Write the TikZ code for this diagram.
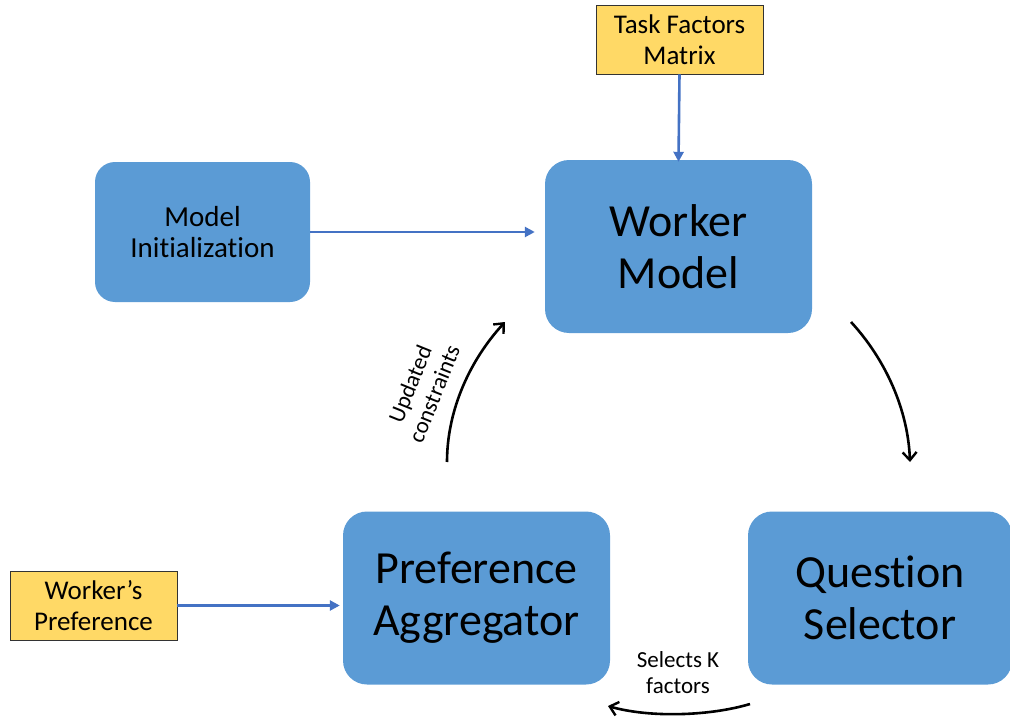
\documentclass[tikz,border=0pt]{standalone}
\usepackage{fontspec}
\setmainfont[Ligatures=NoCommon]{Carlito}
\usetikzlibrary{arrows.meta}
\definecolor{boxblue}{HTML}{5B9BD5}
\definecolor{lineblue}{HTML}{4472C4}
\definecolor{note}{HTML}{FFD966}
\begin{document}
\begin{tikzpicture}[x=1pt,y=-1pt,
  bigbox/.style={fill=boxblue,draw=none,rounded corners=24pt,minimum width=267pt,minimum height=173pt,align=center,font=\fontsize{46}{52}\selectfont},
  smallbox/.style={fill=boxblue,draw=none,rounded corners=20pt,minimum width=215pt,minimum height=140pt,align=center,font=\fontsize{29}{31}\selectfont},
  notebox/.style={fill=note,draw=black!80,line width=0.8pt,minimum width=167pt,minimum height=69pt,align=center,font=\fontsize{27}{31}\selectfont,inner sep=0pt},
  blueline/.style={draw=lineblue,line width=2.6pt,-{Triangle[length=10pt,width=10pt]}},
  loop/.style={draw=black,line width=2.6pt,-{Straight Barb[length=8pt,width=14pt,line width=2.4pt]}},
  lbl/.style={font=\fontsize{23}{26}\selectfont,align=center}]
\useasboundingbox (0,0) rectangle (1010,717);
\node[smallbox] (init) at (202.5,232) {Model\\Initialization};
\node[bigbox] (wm) at (678.5,246.5) {Worker\\Model};
\node[bigbox] (pa) at (476.5,598) {Preference\\Aggregator};
\node[bigbox,minimum width=264pt] (qs) at (880,598) {Question\\Selector};
\node[notebox] (tf) at (679.5,39.5) {Task Factors\\Matrix};
\node[notebox] (wp) at (93.5,605.5) {Worker’s\\Preference};
\draw[blueline] (tf.south) -- ([yshift=-2pt]wm.north);
\draw[blueline] (init.east) -- ([xshift=-10pt]wm.west |- init.east);
\draw[blueline] (wp.east) -- ([xshift=-3pt]pa.west |- wp.east);
\coordinate (a1s) at (447,462);
\coordinate (a1e) at (505,322);
\coordinate (a2s) at (851,322);
\coordinate (a2e) at (910,462);
\coordinate (a3s) at (750,704);
\coordinate (a3e) at (608,706);
\draw[loop] (a1s) .. controls (447,410) and (470,360) .. (a1e);
\draw[loop] (a2s) .. controls (886,360) and (908,410) .. (a2e);
\draw[loop] (a3s) .. controls (710,716) and (650,718) .. (a3e);
\node[lbl,rotate=68] (uc) at (422,389) {Updated\\constraints};
\node[lbl] (sk) at (678,673) {Selects K\\factors};
\end{tikzpicture}
\end{document}
